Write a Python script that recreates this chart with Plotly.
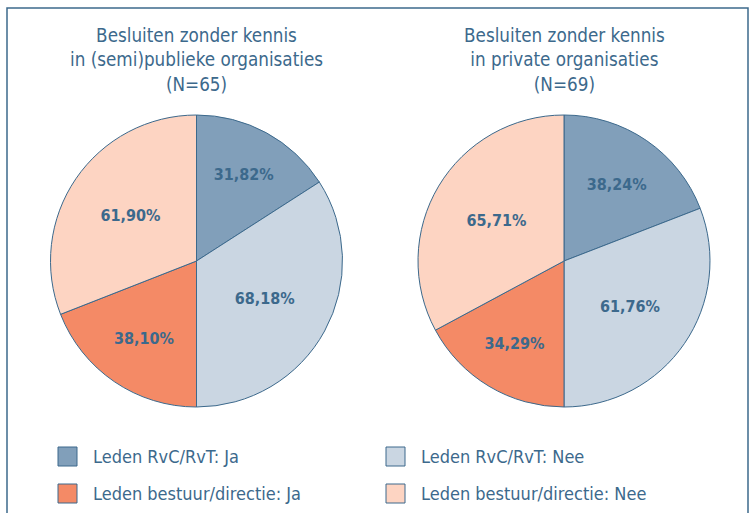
import plotly.graph_objects as go

labels = ["Leden RvC/RvT: Ja", "Leden RvC/RvT: Nee",
          "Leden bestuur/directie: Ja", "Leden bestuur/directie: Nee"]
colors = ["#819FBA", "#CAD6E2", "#F48A66", "#FDD4C2"]

publiek_values = [31.82, 68.18, 38.10, 61.90]
private_values = [38.24, 61.76, 34.29, 65.71]

titles = ["Besluiten zonder kennis<br>in (semi)publieke organisaties<br>(N=65)",
          "Besluiten zonder kennis<br>in private organisaties<br>(N=69)"]

FONT = "DejaVu Sans Condensed, Liberation Sans Narrow, Roboto, sans-serif"
DARK = "#3C698C"

def fmt(v):
    return f"{v:.2f}".replace(".", ",") + "%"

W, H = 751, 513
R = 146
centers = [(196.5, 261), (564, 261)]

fig = go.Figure()
for i, (vals, (cx, cy)) in enumerate(zip([publiek_values, private_values], centers)):
    fig.add_trace(go.Pie(
        labels=labels, values=vals, text=[fmt(v) for v in vals],
        textinfo="text", hoverinfo="label+text",
        sort=False, direction="clockwise", rotation=0,
        marker=dict(colors=colors, line=dict(color=DARK, width=1)),
        textfont=dict(family=FONT, size=16, color=DARK, weight="bold"),
        insidetextorientation="horizontal", textposition="inside",
        domain=dict(x=[(cx - R) / W, (cx + R) / W],
                    y=[(H - cy - R) / H, (H - cy + R) / H]),
        showlegend=False,
    ))
    fig.add_annotation(x=cx / W, y=1 - 23 / H, xref="paper", yref="paper",
                       text=titles[i], showarrow=False, xanchor="center", yanchor="top",
                       font=dict(family=FONT, size=18.7, color=DARK))

# legend (2 x 2 grid)
for i, (lab, col) in enumerate(zip(labels, colors)):
    r, c = divmod(i, 2)
    x0 = 58 + c * 328
    yc = 456.5 + r * 37
    fig.add_shape(type="rect", xref="paper", yref="paper",
                  x0=x0 / W, x1=(x0 + 19) / W,
                  y0=1 - (yc + 9.5) / H, y1=1 - (yc - 9.5) / H,
                  fillcolor=col, line=dict(color=DARK, width=1))
    fig.add_annotation(x=(x0 + 33) / W, y=1 - yc / H, xref="paper", yref="paper",
                       text=lab, showarrow=False, xanchor="left", yanchor="middle",
                       font=dict(family=FONT, size=18, color=DARK))

fig.add_shape(type="rect", xref="paper", yref="paper",
              x0=7 / W, x1=748 / W, y0=-0.05, y1=1 - 8 / H,
              line=dict(color=DARK, width=1.5), fillcolor="rgba(0,0,0,0)")

fig.update_layout(
    width=W, height=H, margin=dict(l=0, r=0, t=0, b=0),
    paper_bgcolor="white", plot_bgcolor="white",
    font=dict(family=FONT, color=DARK),
    showlegend=False,
)

fig.write_html("out.html", config={"displayModeBar": False},
               post_script="document.body.style.margin='0';")
